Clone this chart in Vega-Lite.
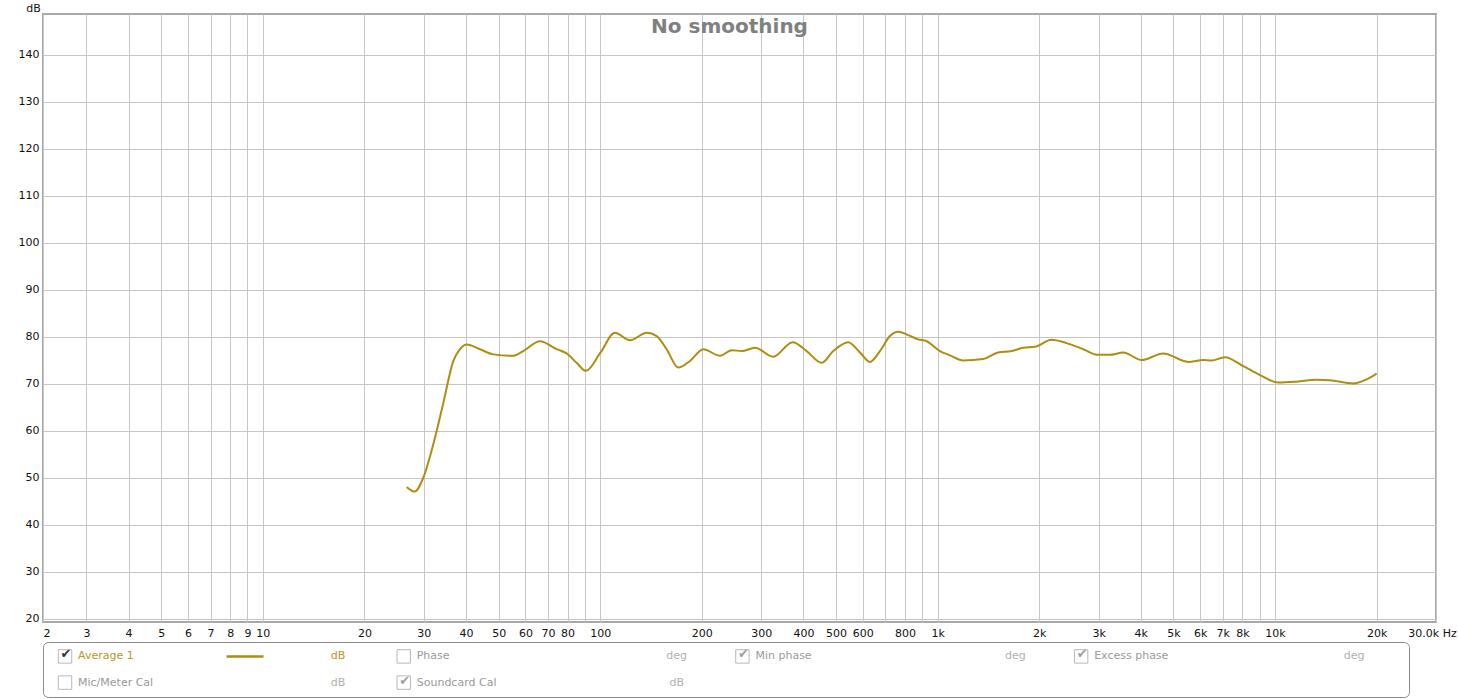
{
  "$schema": "https://vega.github.io/schema/vega-lite/v6.json",
  "padding": {"left": 17, "top": 1, "right": 0, "bottom": 0},
  "background": "white",
  "spacing": 2,
  "config": {"font": "DejaVu Sans"},
  "datasets": {
    "response": [
      {"f": 26.7, "db": 48.1}, {"f": 28.2, "db": 47.1}, {"f": 29.9, "db": 50.1}, {"f": 32.0, "db": 57.2},
      {"f": 34.2, "db": 65.7}, {"f": 36.7, "db": 74.9}, {"f": 38.4, "db": 77.4}, {"f": 40.2, "db": 78.4},
      {"f": 44.0, "db": 77.4}, {"f": 48.2, "db": 76.3}, {"f": 55.2, "db": 76.0}, {"f": 59.1, "db": 77.0},
      {"f": 66.3, "db": 79.1}, {"f": 74.3, "db": 77.4}, {"f": 79.5, "db": 76.5}, {"f": 85.1, "db": 74.5},
      {"f": 90.7, "db": 72.8}, {"f": 100, "db": 76.6}, {"f": 110.5, "db": 80.9}, {"f": 122.5, "db": 79.3},
      {"f": 137.3, "db": 80.9}, {"f": 147, "db": 80.2}, {"f": 157.3, "db": 77.4}, {"f": 170.3, "db": 73.5},
      {"f": 184.5, "db": 74.9}, {"f": 202, "db": 77.4}, {"f": 226.4, "db": 76.0}, {"f": 245.2, "db": 77.2},
      {"f": 262.5, "db": 77.0}, {"f": 287.4, "db": 77.7}, {"f": 325.6, "db": 75.8}, {"f": 371.7, "db": 78.9},
      {"f": 409, "db": 77.0}, {"f": 453, "db": 74.5}, {"f": 490.5, "db": 77.0}, {"f": 543, "db": 78.9},
      {"f": 588.6, "db": 76.7}, {"f": 630, "db": 74.7}, {"f": 674.5, "db": 77.0}, {"f": 722, "db": 80.2},
      {"f": 764, "db": 81.1}, {"f": 818, "db": 80.4}, {"f": 876, "db": 79.5}, {"f": 928, "db": 79.1},
      {"f": 1016, "db": 77.0}, {"f": 1088, "db": 76.1}, {"f": 1191, "db": 75.0}, {"f": 1365, "db": 75.3},
      {"f": 1512, "db": 76.7}, {"f": 1657, "db": 77.0}, {"f": 1794, "db": 77.7}, {"f": 1943, "db": 77.9},
      {"f": 2177, "db": 79.4}, {"f": 2412, "db": 78.7}, {"f": 2701, "db": 77.4}, {"f": 2992, "db": 76.2},
      {"f": 3241, "db": 76.2}, {"f": 3549, "db": 76.7}, {"f": 4024, "db": 75.1}, {"f": 4664, "db": 76.5},
      {"f": 5530, "db": 74.7}, {"f": 6126, "db": 75.1}, {"f": 6488, "db": 75.0}, {"f": 7105, "db": 75.7},
      {"f": 8049, "db": 73.8}, {"f": 9023, "db": 71.9}, {"f": 10220, "db": 70.3}, {"f": 11590, "db": 70.5},
      {"f": 13280, "db": 70.9}, {"f": 14540, "db": 70.8}, {"f": 17050, "db": 70.1}, {"f": 18690, "db": 71.0},
      {"f": 20010, "db": 72.2}
    ],
    "legend": [
      {"item": "Average 1", "col": 0, "row": 1, "checked": true, "active": true, "unit": "dB"},
      {"item": "Phase", "col": 1, "row": 1, "checked": false, "active": false, "unit": "deg"},
      {"item": "Min phase", "col": 2, "row": 1, "checked": true, "active": false, "unit": "deg"},
      {"item": "Excess phase", "col": 3, "row": 1, "checked": true, "active": false, "unit": "deg"},
      {"item": "Mic/Meter Cal", "col": 0, "row": 2, "checked": false, "active": false, "unit": "dB"},
      {"item": "Soundcard Cal", "col": 1, "row": 2, "checked": true, "active": false, "unit": "dB"}
    ]
  },
  "vconcat": [
    {
      "width": 1393,
      "height": 608,
      "title": {
        "text": "No smoothing",
        "font": "DejaVu Sans",
        "fontSize": 20,
        "fontWeight": "bold",
        "color": "#808080",
        "anchor": "middle",
        "frame": "group",
        "baseline": "alphabetic",
        "offset": -31,
        "dx": -10,
        "dy": 20
      },
      "view": {"stroke": "#a8a8a8", "strokeWidth": 2},
      "data": {"name": "response"},
      "mark": {"type": "line", "interpolate": "monotone", "color": "#b08d10", "strokeWidth": 2},
      "encoding": {
        "x": {
          "field": "f",
          "type": "quantitative",
          "scale": {"type": "log", "domain": [2.23, 30000], "nice": false},
          "axis": {
            "title": null,
            "values": [2.23, 3, 4, 5, 6, 7, 8, 9, 10, 20, 30, 40, 50, 60, 70, 80, 90, 100, 200, 300, 400, 500, 600, 700, 800, 900, 1000, 2000, 3000, 4000, 5000, 6000, 7000, 8000, 9000, 10000, 20000, 30000],
            "labelExpr": "datum.value < 2.5 ? '2' : datum.value > 29999 ? '30.0k Hz' : indexof([90, 700, 900, 9000], datum.value) >= 0 ? '' : datum.value >= 1000 ? (datum.value / 1000) + 'k' : '' + datum.value",
            "grid": true,
            "gridColor": "#c6c6c6",
            "gridWidth": 1,
            "ticks": false,
            "domain": false,
            "labelPadding": 5,
            "labelFont": "DejaVu Sans",
            "labelFontSize": 11,
            "labelColor": "#111111",
            "labelAngle": 0,
            "labelOverlap": false,
            "labelFlush": false,
            "labelAlign": {"condition": {"test": "datum.value < 2.5", "value": "left"}, "value": "center"},
            "labelOffset": {"condition": {"test": "datum.value > 29999", "value": -4}, "value": 0}
          }
        },
        "y": {
          "field": "db",
          "type": "quantitative",
          "scale": {"domain": [19.36, 148.72], "nice": false, "zero": false},
          "axis": {
            "values": [20, 30, 40, 50, 60, 70, 80, 90, 100, 110, 120, 130, 140],
            "grid": true,
            "gridColor": "#c6c6c6",
            "gridWidth": 1,
            "ticks": false,
            "domain": false,
            "labelPadding": 4,
            "labelFont": "DejaVu Sans",
            "labelFontSize": 11,
            "labelColor": "#111111",
            "title": "dB",
            "titleAngle": 0,
            "titleX": -10,
            "titleY": -3,
            "titleAlign": "center",
            "titleBaseline": "alphabetic",
            "titleFont": "DejaVu Sans",
            "titleFontSize": 11,
            "titleFontWeight": "normal",
            "titleColor": "#111111"
          }
        }
      }
    },
    {
      "width": 1366,
      "height": 55,
      "view": {"stroke": "#8c8c8c", "strokeWidth": 1, "cornerRadius": 5, "fill": "white"},
      "data": {"name": "legend"},
      "encoding": {
        "x": {"field": "col", "type": "quantitative", "scale": {"domain": [-0.065, 3.968], "nice": false, "zero": false}, "axis": null},
        "y": {"field": "row", "type": "ordinal", "scale": {"type": "point", "padding": 0.55}, "axis": null}
      },
      "layer": [
        {
          "mark": {"type": "point", "shape": "square", "size": 180, "filled": true, "fill": "#ffffff", "stroke": "#b8b8b8", "strokeWidth": 1, "opacity": 1}
        },
        {
          "transform": [{"filter": "datum.checked"}],
          "mark": {"type": "text", "text": "✔", "fontSize": 13, "align": "center", "baseline": "middle", "dx": 1, "dy": -2},
          "encoding": {
            "color": {"condition": {"test": "datum.active", "value": "#333333"}, "value": "#a0a0a0"}
          }
        },
        {
          "mark": {"type": "text", "align": "left", "baseline": "middle", "dx": 13, "fontSize": 11, "font": "DejaVu Sans"},
          "encoding": {
            "text": {"field": "item"},
            "color": {"condition": {"test": "datum.active", "value": "#b8962a"}, "value": "#9a9a9a"}
          }
        },
        {
          "mark": {"type": "text", "align": "center", "baseline": "middle", "dx": 273, "fontSize": 11, "font": "DejaVu Sans"},
          "encoding": {
            "text": {"field": "unit"},
            "color": {"condition": {"test": "datum.active", "value": "#b8962a"}, "value": "#b0b0b0"}
          }
        },
        {
          "transform": [{"filter": "datum.active"}],
          "mark": {"type": "point", "shape": "stroke", "size": 1369, "filled": false, "stroke": "#b08d10", "strokeWidth": 2.5, "opacity": 1, "xOffset": 180}
        }
      ]
    }
  ]
}
